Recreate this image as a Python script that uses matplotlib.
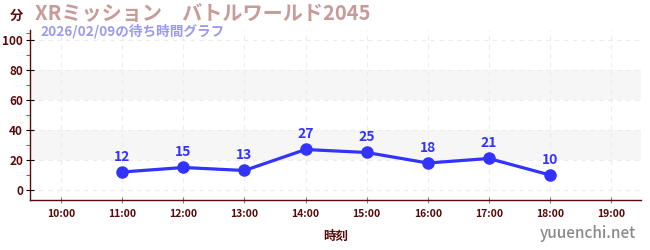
import matplotlib
matplotlib.use("Agg")
import matplotlib.pyplot as plt

plt.rcParams['font.family'] = ['Noto Sans CJK JP', 'DejaVu Sans']

hours = [11, 12, 13, 14, 15, 16, 17, 18]
waits = [12, 15, 13, 27, 25, 18, 21, 10]
tick_hours = [10, 11, 12, 13, 14, 15, 16, 17, 18, 19]
tick_labels = ["10:00", "11:00", "12:00", "13:00", "14:00", "15:00", "16:00", "17:00", "18:00", "19:00"]
y_ticks = [0, 20, 40, 60, 80, 100]
bands = [(20, 40), (60, 80)]

title = "XRミッション　バトルワールド2045"
subtitle = "2026/02/09の待ち時間グラフ"
dark = "#5a0a0a"
blue = "#3333ff"

fig = plt.figure(figsize=(6.5, 2.5), dpi=100)
ax = fig.add_axes([30/650, 50/250, 611/650, 170/250])
ax.set_xlim(9.49, 19.49)
ax.set_ylim(-6.67, 106.67)

for lo, hi in bands:
    ax.axhspan(lo, hi, color="#f6f6f6", zorder=0, lw=0)
for y in y_ticks:
    ax.axhline(y, color="#ececec", lw=0.8, ls=(0, (4, 4)), zorder=1)
for x in tick_hours:
    ax.axvline(x, color="#ececec", lw=0.8, ls=(0, (4, 4)), zorder=1)

ax.plot(hours, waits, color=blue, lw=2.3, marker="o", ms=8, zorder=3)
for h, w in zip(hours, waits):
    ax.annotate(str(w), (h, w), xytext=(0, 6), textcoords="offset points",
                ha="center", va="bottom", color=blue, fontsize=10, fontweight="bold")

ax.set_xticks(tick_hours)
ax.set_xticklabels(tick_labels, fontsize=7.5, color=dark, fontweight="bold")
ax.set_yticks(y_ticks)
ax.set_yticklabels([str(v) for v in y_ticks], fontsize=8.5, color=dark, fontweight="bold")
ax.set_yticks([10, 30, 50, 70, 90, 105], minor=True)
ax.tick_params(axis="y", which="major", direction="inout", length=6, color="black", pad=2)
ax.tick_params(axis="y", which="minor", direction="out", length=3, color="red")
ax.tick_params(axis="x", which="major", direction="inout", length=5, color="gray", pad=4)

for s in ["top", "right"]:
    ax.spines[s].set_visible(False)
for s in ["left", "bottom"]:
    ax.spines[s].set_color(dark)
    ax.spines[s].set_linewidth(1.0)

ax.set_xlabel("時刻", fontsize=9, color=dark, fontweight="bold", labelpad=8)

fig.text(10/650, 1 - 16/250, "分", fontsize=9.5, color=dark, fontweight="bold", va="center")
fig.text(35/650, 1 - 14/250, title, fontsize=14.5, color="#c99a9a", fontweight="bold", va="center")
fig.text(40/650, 1 - 31/250, subtitle, fontsize=9.8, color="#9a9af0", fontweight="bold", va="center")
fig.text(636/650, 1 - 233/250, "yuuenchi.net", fontsize=11, color="#8a8a8a", fontweight="medium",
         ha="right", va="center")

fig.savefig("out.png", dpi=100)
